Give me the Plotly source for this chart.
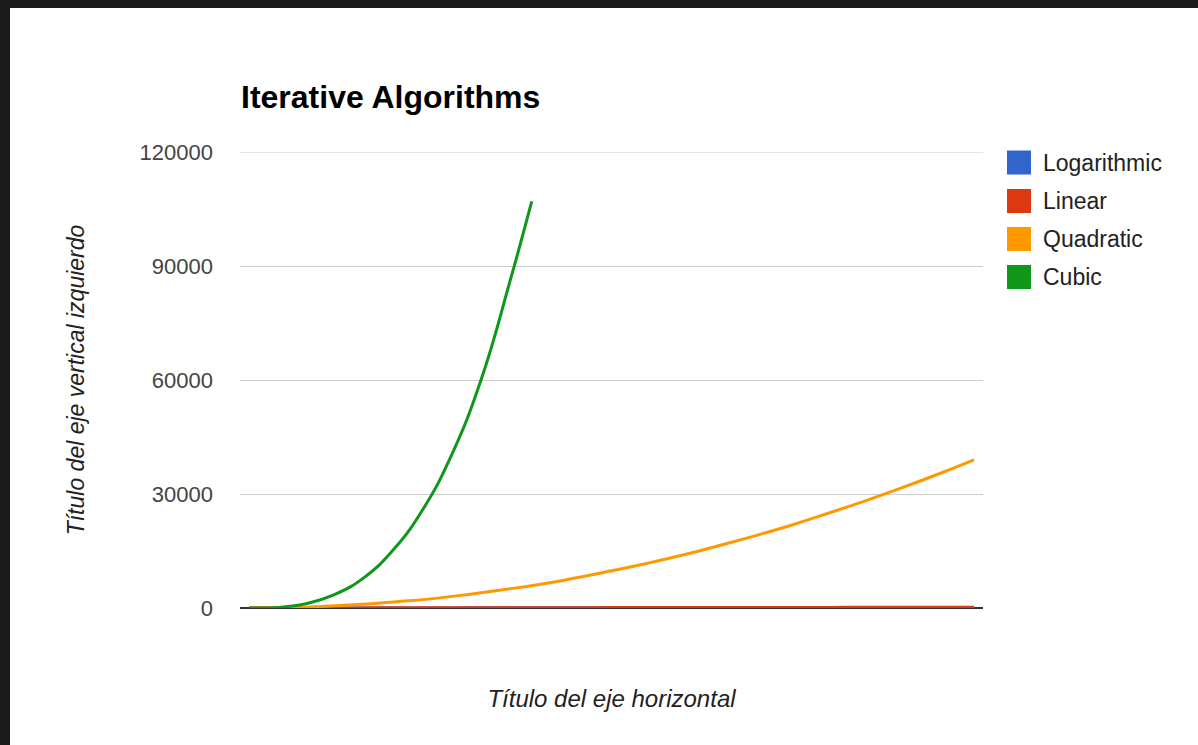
import plotly.graph_objects as go

# ---- data ----
n_main = [0, 5, 10, 15, 20, 25, 30, 35, 40, 45, 50, 55, 60, 65, 70, 75, 80, 85, 90, 95, 100]
logarithmic = [0, 16, 23, 27, 30, 32, 34, 35, 37, 38, 39, 40, 41, 42, 42, 43, 44, 44, 45, 45, 46]
linear = [0, 10, 20, 30, 40, 50, 60, 70, 80, 90, 100, 110, 120, 130, 140, 150, 160, 170, 180, 190, 200]
quadratic = [0, 100, 400, 900, 1600, 2400, 3500, 4800, 6200, 7900, 9800, 11800, 14000,
             16500, 19100, 21900, 25000, 28200, 31600, 35200, 39000]
n_cubic = [0, 4, 8, 12, 16, 20, 24, 28, 32, 36, 39]
cubic = [0, 150, 1200, 3700, 8200, 15500, 26000, 40500, 60000, 86000, 107000]

series_names = ["Logarithmic", "Linear", "Quadratic", "Cubic"]
colors = ["#3366cc", "#dc3912", "#ff9900", "#109618"]
y_ticks = [0, 30000, 60000, 90000, 120000]

title_text = "Iterative Algorithms"
x_title = "Título del eje horizontal"
y_title = "Título del eje vertical izquierdo"

FONT = "Arial, Liberation Sans, sans-serif"

fig = go.Figure()
xs = [n_main, n_main, n_main, n_cubic]
ys = [logarithmic, linear, quadratic, cubic]
for name, color, xv, yv in zip(series_names, colors, xs, ys):
    fig.add_trace(go.Scatter(
        x=xv, y=yv, mode="lines", name=name,
        line=dict(color=color, width=3, shape="spline", smoothing=1.3),
        showlegend=False,
    ))

# layout geometry (pixels)
W, H = 1198, 745
ml, mr, mt, mb = 240, 215, 152, 137
pw = W - ml - mr
ph = H - mt - mb

def px_x(px):
    return (px - ml) / pw

def px_y(py):
    return (H - mb - py) / ph

shapes = [
    # white card on dark frame
    dict(type="rect", xref="paper", yref="paper",
         x0=px_x(10), x1=px_x(W + 20), y0=px_y(H + 20), y1=px_y(8),
         fillcolor="white", line=dict(width=0), layer="below"),
    # top gridline (at the edge of the range)
    dict(type="line", xref="paper", yref="y",
         x0=0, x1=1, y0=y_ticks[-1], y1=y_ticks[-1],
         line=dict(color="#cccccc", width=1), layer="below"),
]
annotations = []
row_centers = [162.5, 201, 239, 277]
for name, color, cy in zip(series_names, colors, row_centers):
    shapes.append(dict(type="rect", xref="paper", yref="paper",
                       x0=px_x(1007), x1=px_x(1031),
                       y0=px_y(cy + 12), y1=px_y(cy - 12),
                       fillcolor=color, line=dict(width=0)))
    annotations.append(dict(text=name, xref="paper", yref="paper",
                            x=px_x(1041), y=px_y(cy), xanchor="left", yanchor="middle",
                            showarrow=False, font=dict(family=FONT, size=23, color="#222222")))

fig.update_layout(
    width=W, height=H,
    margin=dict(l=ml, r=mr, t=mt, b=mb, pad=0),
    paper_bgcolor="#1b1b1b",
    plot_bgcolor="white",
    showlegend=False,
    title=dict(text=title_text, x=px_x(241), xref="paper", xanchor="left",
               y=1 - 97 / H, yref="container", yanchor="middle",
               font=dict(family=FONT, size=32, color="#000000", weight="bold")),
    shapes=shapes,
    annotations=annotations,
    font=dict(family=FONT),
)

fig.update_xaxes(
    range=[-1.24, 101.24],
    showgrid=False, zeroline=False, showticklabels=False, ticks="",
    showline=False,
    title=dict(text=x_title, standoff=82,
               font=dict(family=FONT, size=24, color="#222222", style="italic")),
)
fig.update_yaxes(
    range=[0, 120000],
    tickvals=y_ticks, ticktext=[str(v) for v in y_ticks],
    showgrid=True, gridcolor="#cccccc", gridwidth=1,
    zeroline=True, zerolinecolor="#333333", zerolinewidth=2,
    showline=False, ticks="",
    ticklabelstandoff=26,
    tickfont=dict(family=FONT, size=22, color="#444444"),
    title=dict(text=y_title, standoff=48,
               font=dict(family=FONT, size=23, color="#222222", style="italic")),
)

fig.write_html("out.html")
